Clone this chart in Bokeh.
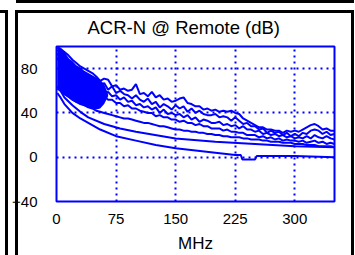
from bokeh.plotting import figure
from bokeh.models import FixedTicker, Range1d
from bokeh.embed import file_html
from bokeh.resources import INLINE

title_text = "ACR-N @ Remote (dB)"
x_label = "MHz"
x_ticks = [0, 75, 150, 225, 300]
y_ticks = [-40, 0, 40, 80]

# 5 MHz grid for the measured pairs
freq = [1] + list(range(5, 351, 5))

pair_1 = [99, 98, 95, 92, 88, 85, 82, 80, 78, 76,
          73, 69, 71, 70, 64, 65, 61, 62, 60, 61,
          66, 57, 58, 55, 59, 54, 56, 52, 53, 50,
          51, 53, 54, 49, 48, 46, 46, 43, 44, 42,
          43, 41, 42, 41, 42, 40, 39, 35, 33, 31,
          29, 27, 27, 25, 25, 24, 24, 22, 24, 23,
          24, 23, 25, 27, 29, 30, 28, 25, 26, 24,
          24]
pair_2 = [97, 94, 91, 87, 84, 81, 78, 75, 74, 71,
          69, 65, 67, 61, 64, 58, 60, 57, 56, 53,
          56, 52, 50, 53, 48, 50, 45, 48, 46, 43,
          47, 44, 46, 41, 44, 40, 42, 39, 38, 38,
          39, 36, 37, 36, 33, 36, 33, 30, 31, 28,
          28, 25, 26, 22, 24, 22, 23, 20, 22, 19,
          21, 19, 22, 21, 24, 25, 24, 21, 23, 20,
          21]
pair_3 = [94, 89, 85, 81, 78, 75, 73, 70, 68, 66,
          63, 62, 58, 59, 55, 56, 52, 54, 50, 51,
          47, 48, 45, 46, 43, 45, 40, 43, 39, 40,
          38, 39, 36, 38, 34, 36, 32, 34, 33, 31,
          31, 32, 29, 30, 28, 29, 26, 28, 25, 25,
          23, 24, 21, 22, 20, 21, 19, 20, 18, 19,
          17, 18, 17, 19, 17, 20, 18, 17, 19, 17,
          16]
pair_4 = [90, 84, 79, 75, 72, 69, 66, 64, 62, 60,
          58, 55, 55, 52, 52, 49, 49, 46, 47, 44,
          44, 42, 41, 40, 40, 37, 38, 36, 36, 34,
          34, 32, 33, 31, 31, 29, 30, 28, 28, 26,
          26, 26, 24, 25, 23, 23, 22, 22, 20, 20,
          20, 18, 19, 17, 18, 16, 17, 15, 16, 15,
          15, 14, 15, 13, 14, 15, 13, 14, 12, 13,
          12]
pair_5 = [62, 60, 57, 55, 52, 50, 48, 47, 45, 44,
          42, 41, 40, 39, 38, 37, 36, 35, 35, 34,
          33, 32, 31, 31, 30, 29, 28, 28, 27, 26,
          25, 25, 24, 24, 23, 23, 22, 22, 21, 21,
          20, 20, 19, 19, 18, 18, 18, 17, 17, 16,
          16, 16, 15, 15, 14, 14, 14, 13, 13, 13,
          12, 12, 12, 11, 11, 11, 10, 10, 10, 10,
          9]

# spread of the dense low-band sweeps
band_freq = [1, 4, 8, 12, 16, 20, 25, 30, 35, 40, 45, 50, 55, 60, 65]
band_hi = [99, 99, 96, 93, 89, 87, 83, 81, 78, 76, 74, 72, 70, 66, 57]
band_lo = [62, 60, 57, 55, 53, 51, 49, 48, 46, 45, 44, 43, 44, 48, 55]

limit_freq_a = [1, 5, 10, 20, 30, 40, 60, 80, 100, 150, 200, 250, 300, 350]
limit_a = [64, 60, 54, 47, 41, 36, 30, 26, 23, 17, 14, 12, 10, 9]
limit_freq_b = [1, 5, 10, 20, 30, 40, 55, 75, 100, 125, 150, 175, 200, 225, 232, 234, 250, 252, 300, 350]
limit_b = [58, 54, 48, 40, 35, 31, 25, 19, 15, 11, 8, 6, 4, 2, 2, -2, -2, 1, 1, 0]

BLUE = "#0000ff"
FONT = "Liberation Sans"

# panel frame lines (neighbouring panels of the original figure sheet)
frame_pos = ["16px 0px", "5px 10px", "0px 10px", "15px 10px", "15px 10px", "351px 10px"]
frame_size = ["338px 3px", "3px 245px", "8px 3px", "3px 245px", "339px 3px", "3px 245px"]

p = figure(width=355, height=255, output_backend="svg", toolbar_location=None,
           x_range=Range1d(0, 350), y_range=Range1d(-40, 100),
           min_border_left=56, min_border_right=21, min_border_top=46, min_border_bottom=48,
           title=title_text)
p.title.align = "left"
p.title.offset = 31
p.title.standoff = 18
p.title.text_font = FONT
p.title.text_font_size = "18.5px"
p.title.text_font_style = "normal"
p.title.text_color = "black"

p.varea(x=band_freq, y1=band_lo, y2=band_hi, fill_color=BLUE)
for ys in (pair_1, pair_2, pair_3, pair_4, pair_5):
    p.line(freq, ys, line_color=BLUE, line_width=2)
p.line(limit_freq_a, limit_a, line_color=BLUE, line_width=2)
p.line(limit_freq_b, limit_b, line_color=BLUE, line_width=2)

p.xaxis.ticker = FixedTicker(ticks=x_ticks)
p.yaxis.ticker = FixedTicker(ticks=y_ticks)
p.xaxis.axis_label = x_label
for ax in (p.xaxis[0], p.yaxis[0]):
    ax.axis_line_color = None
    ax.major_tick_line_color = None
    ax.minor_tick_line_color = None
    ax.major_label_text_font = FONT
    ax.major_label_text_font_size = "15px"
    ax.major_label_text_color = "black"
p.xaxis.major_label_standoff = 6
p.yaxis.major_label_standoff = 13
p.xaxis.axis_label_standoff = 7
p.xaxis.axis_label_text_font = FONT
p.xaxis.axis_label_text_font_size = "17px"
p.xaxis.axis_label_text_font_style = "normal"
p.xaxis.axis_label_text_color = "black"

for g in (p.xgrid[0], p.ygrid[0]):
    g.grid_line_color = BLUE
    g.grid_line_width = 2
    g.grid_line_dash = "2 4"
p.xgrid.ticker = FixedTicker(ticks=x_ticks)
p.ygrid.ticker = FixedTicker(ticks=y_ticks)

p.outline_line_color = BLUE
p.outline_line_width = 2
p.outline_line_alpha = 1
p.background_fill_color = "white"
p.border_fill_color = None
p.styles = {
    "background-color": "white",
    "background-image": ", ".join(["linear-gradient(#000, #000)"] * len(frame_pos)),
    "background-position": ", ".join(frame_pos),
    "background-size": ", ".join(frame_size),
    "background-repeat": "no-repeat",
}

open("out.html", "w").write(file_html(p, INLINE))
